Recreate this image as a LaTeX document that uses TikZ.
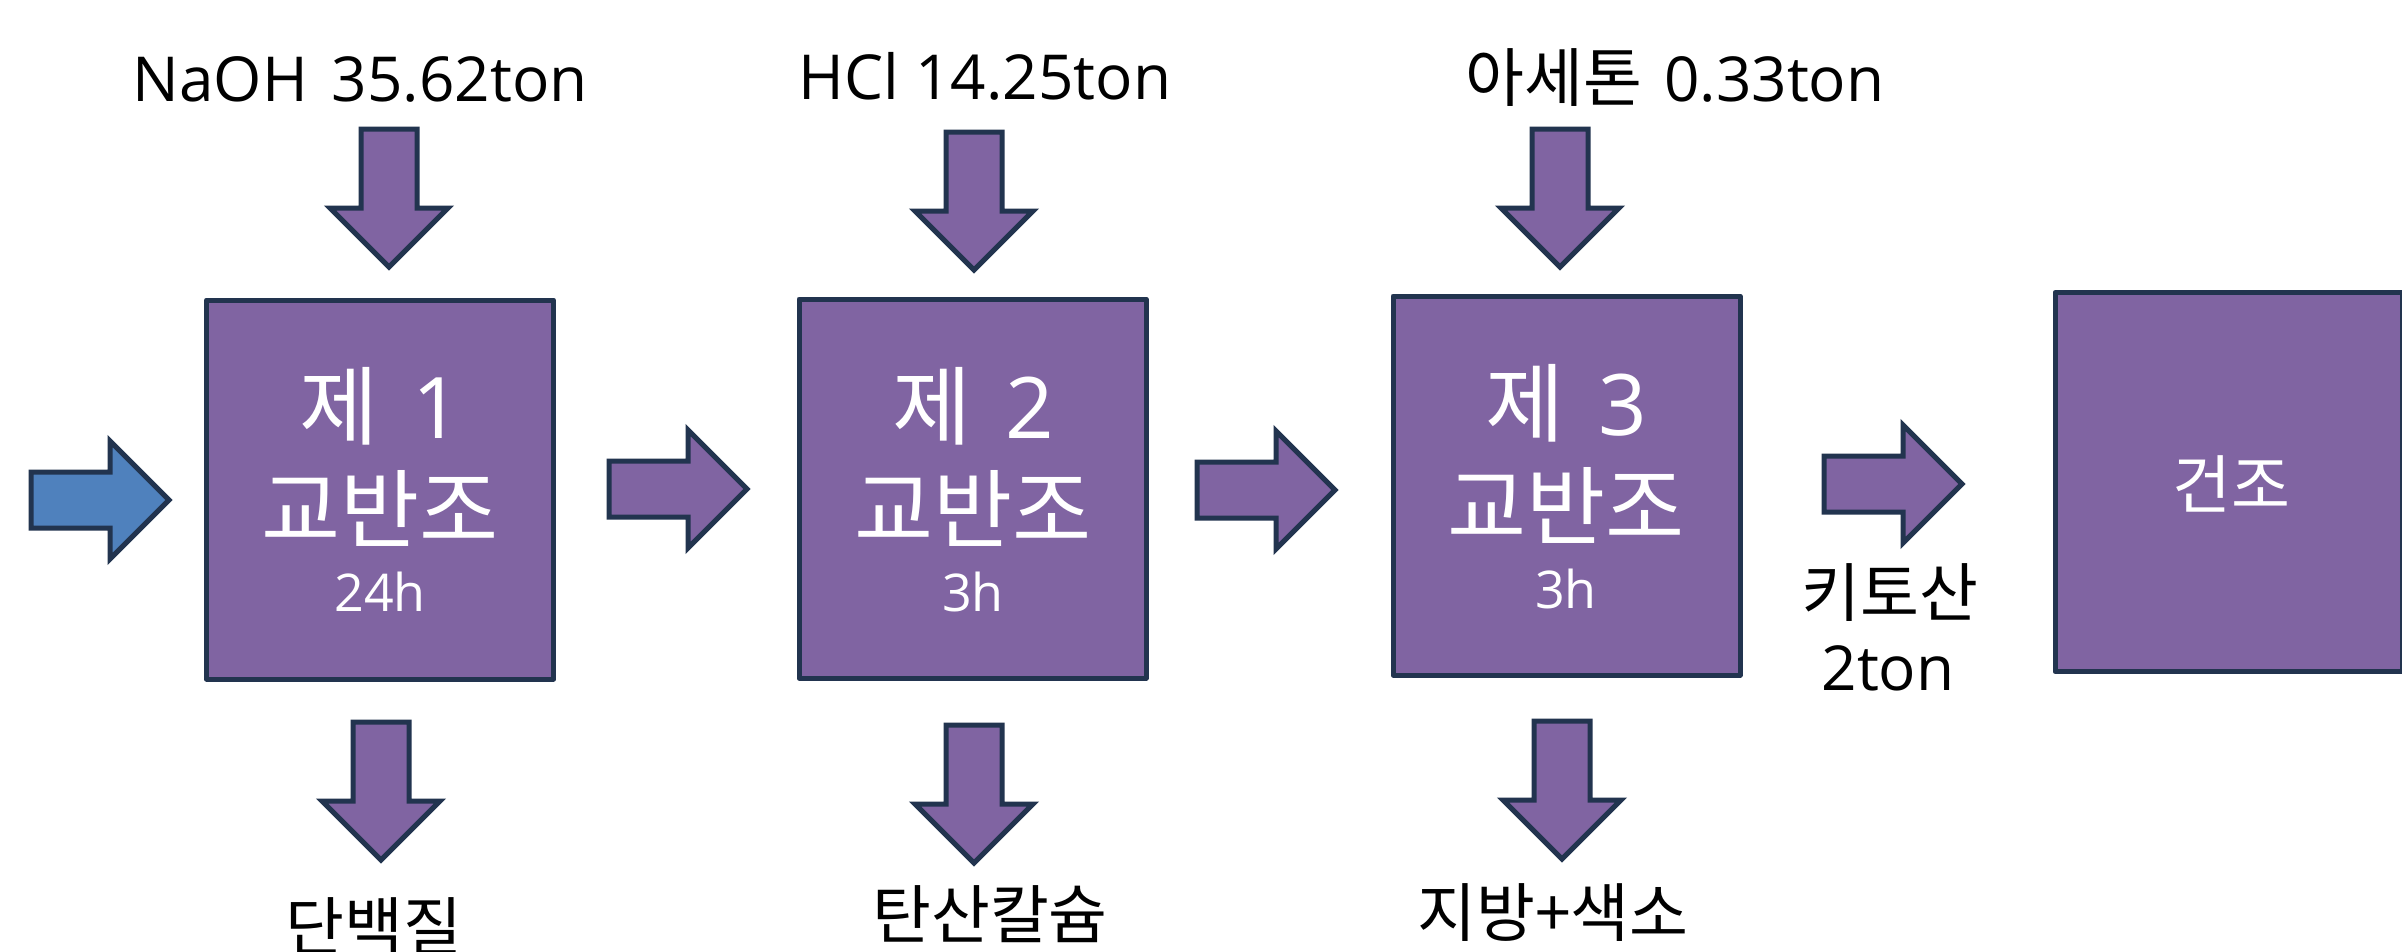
\documentclass[tikz,border=0pt]{standalone}
\usepackage{fontspec}
\setmainfont{Open Sans}
\newfontfamily\kr{Noto Sans CJK KR}
\definecolor{pfill}{HTML}{8064A2}
\definecolor{bfill}{HTML}{4F81BD}
\definecolor{edge}{HTML}{22344F}
\tikzset{
  procbox/.style={draw=edge, fill=pfill, line width=5pt, minimum width=347pt, minimum height=379pt, inner sep=0pt, line join=round},
  flowarrow/.style={draw=edge, fill=pfill, line width=5pt, line join=miter},
  inarrow/.style={draw=edge, fill=bfill, line width=5pt, line join=miter},
  lbl/.style={anchor=base, inner sep=0pt, text=black, font=\fontsize{62}{70}\selectfont},
  krlbl/.style={anchor=base, inner sep=0pt, text=black, font=\kr\fontsize{64}{70}\selectfont},
  boxtxt/.style={anchor=base, inner sep=0pt, text=white},
}
\newcommand{\blockarrow}[3]{%
  \draw[#1, shift={(#2)}, rotate=#3] (0,-28) -- (79,-28) -- (79,-59) -- (138,0) -- (79,59) -- (79,28) -- (0,28) -- cycle;}
\newcommand{\bigkr}{\kr\fontsize{86}{90}\selectfont}
\newcommand{\bignum}{\fontsize{85}{90}\selectfont}
\newcommand{\smallnum}{\fontsize{52}{60}\selectfont}
\begin{document}
\begin{tikzpicture}[x=1pt, y=-1pt]
\useasboundingbox (0,0) rectangle (2402,951);
\fill[white] (0,0) rectangle (2402,951);

% process boxes
\node[procbox] (b1) at (380,489.5) {};
\node[procbox] (b2) at (972.5,488.5) {};
\node[procbox] (b3) at (1566.5,485.5) {};
\node[procbox] (b4) at (2228.5,482) {};

% arrow tails
\coordinate (in0) at (31,500);
\coordinate (a12) at (609,489);
\coordinate (a23) at (1197,490);
\coordinate (a34) at (1824,484);
\coordinate (t1) at (389,129);
\coordinate (t2) at (974,132);
\coordinate (t3) at (1560,129);
\coordinate (d1) at (381,722);
\coordinate (d2) at (974,725);
\coordinate (d3) at (1562,721);

\blockarrow{inarrow}{in0}{0}
\blockarrow{flowarrow}{a12}{0}
\blockarrow{flowarrow}{a23}{0}
\blockarrow{flowarrow}{a34}{0}
\blockarrow{flowarrow}{t1}{-90}
\blockarrow{flowarrow}{t2}{-90}
\blockarrow{flowarrow}{t3}{-90}
\blockarrow{flowarrow}{d1}{-90}
\blockarrow{flowarrow}{d2}{-90}
\blockarrow{flowarrow}{d3}{-90}

% box texts
\node[boxtxt] (b1a) at (380,438) {{\bigkr 제}\hspace{34pt}{\bignum 1}};
\node[boxtxt] (b1b) at (380,541) {\bigkr 교반조};
\node[boxtxt] (b1c) at (380,611) {\smallnum 24h};
\node[boxtxt] (b2a) at (973,438) {{\bigkr 제}\hspace{34pt}{\bignum 2}};
\node[boxtxt] (b2b) at (973,541) {\bigkr 교반조};
\node[boxtxt] (b2c) at (973,611) {\smallnum 3h};
\node[boxtxt] (b3a) at (1566,435) {{\bigkr 제}\hspace{34pt}{\bignum 3}};
\node[boxtxt] (b3b) at (1566,538) {\bigkr 교반조};
\node[boxtxt] (b3c) at (1566,608) {\smallnum 3h};
\node[boxtxt, font=\kr\fontsize{64}{70}\selectfont] (b4a) at (2231,508) {건조};

% input labels
\node[lbl] (l1) at (360,101) {NaOH\hspace{24pt}35.62ton};
\node[lbl] (l2) at (985,99) {HCl 14.25ton};
\node[lbl] (l3) at (1675,101) {{\kr\fontsize{64}{70}\selectfont 아세톤}\hspace{22pt}0.33ton};

% output labels
\node[krlbl] (o1) at (374,950) {단백질};
\node[krlbl] (o2) at (990,938) {탄산칼슘};
\node[krlbl] (o3) at (1553,936) {지방+색소};
\node[krlbl] (o4) at (1890,616) {키토산};
\node[lbl] (o5) at (1888,690) {2ton};
\end{tikzpicture}
\end{document}
